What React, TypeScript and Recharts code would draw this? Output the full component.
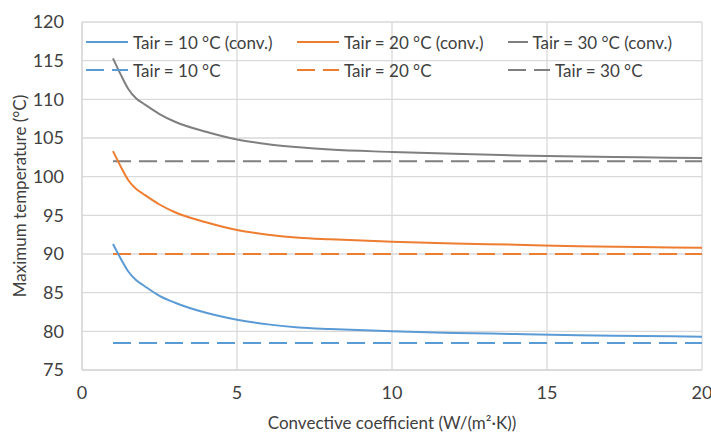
import * as React from "react";
import { ComposedChart, Line, XAxis, YAxis, CartesianGrid, Label } from "recharts";

const H_VALUES = [1, 1.25, 1.5, 1.75, 2, 2.5, 3, 4, 5, 6, 7, 8, 10, 12, 14, 16, 18, 20];
const T10_CONV = [91.3, 89.4, 87.7, 86.6, 85.9, 84.6, 83.7, 82.4, 81.5, 80.9, 80.5, 80.3, 80.0, 79.8, 79.65, 79.5, 79.4, 79.3];
const T20_CONV = [103.3, 101.3, 99.5, 98.4, 97.7, 96.4, 95.4, 94.1, 93.1, 92.5, 92.1, 91.9, 91.6, 91.35, 91.2, 91.0, 90.9, 90.8];
const T30_CONV = [115.3, 113.2, 111.3, 110.1, 109.4, 108.1, 107.1, 105.8, 104.8, 104.2, 103.8, 103.5, 103.2, 102.95, 102.75, 102.6, 102.5, 102.4];
const T10_FLAT = 78.5;
const T20_FLAT = 90;
const T30_FLAT = 102;

const X_TICKS = [0, 5, 10, 15, 20];
const Y_TICKS = [75, 80, 85, 90, 95, 100, 105, 110, 115, 120];

const BLUE = "#5B9BD5";
const ORANGE = "#ED7D31";
const GRAY = "#7F7F7F";
const GRID = "#D9D9D9";
const TEXT = "#404040";
const FONT = "Lato, 'Open Sans', sans-serif";

const data = H_VALUES.map((h, i) => ({
  h,
  c10: T10_CONV[i],
  c20: T20_CONV[i],
  c30: T30_CONV[i],
  f10: T10_FLAT,
  f20: T20_FLAT,
  f30: T30_FLAT,
}));

const LEGEND_ITEMS = [
  { label: "Tair = 10 °C (conv.)", color: BLUE, dashed: false },
  { label: "Tair = 20 °C (conv.)", color: ORANGE, dashed: false },
  { label: "Tair = 30 °C (conv.)", color: GRAY, dashed: false },
  { label: "Tair = 10 °C", color: BLUE, dashed: true },
  { label: "Tair = 20 °C", color: ORANGE, dashed: true },
  { label: "Tair = 30 °C", color: GRAY, dashed: true },
];

// legend sits inside the plot, transparent like Excel's
function LegendBox() {
  return (
    <div style={{
      position: "absolute", left: 85, top: 31, display: "grid",
      gridTemplateColumns: "211px 211px 165px", rowGap: 6,
      fontFamily: FONT, fontSize: 17, color: TEXT, pointerEvents: "none",
    }}>
      {LEGEND_ITEMS.map(it => (
        <div key={it.label} style={{ display: "flex", alignItems: "center", height: 22 }}>
          <svg width={44} height={10} style={{ marginRight: 4 }}>
            <line x1={1} y1={5} x2={43} y2={5} stroke={it.color} strokeWidth={2}
              strokeDasharray={it.dashed ? "18 8" : undefined} />
          </svg>
          <span style={{ whiteSpace: "nowrap" }}>{it.label}</span>
        </div>
      ))}
    </div>
  );
}

export default function App() {
  const tick = { fill: TEXT, fontSize: 18, fontFamily: FONT };
  return (
    <div style={{ position: "absolute", left: 0, top: 0, width: 711, height: 433, background: "#fff" }}>
      <ComposedChart width={711} height={433} data={data} margin={{ top: 22, right: 9, left: 0, bottom: 0 }}>
        <CartesianGrid stroke={GRID} strokeWidth={1.3} />
        <XAxis dataKey="h" type="number" domain={[0, 20]} ticks={X_TICKS} height={63}
          tick={tick} tickLine={false} axisLine={{ stroke: GRID, strokeWidth: 1.3 }} tickMargin={10}>
          <Label value="Convective coefficient (W/(m²·K))" position="insideBottom" offset={4}
            style={{ fill: TEXT, fontSize: 17, fontFamily: FONT }} />
        </XAxis>
        <YAxis type="number" domain={[75, 120]} ticks={Y_TICKS} width={82}
          tick={tick} tickLine={false} axisLine={{ stroke: GRID, strokeWidth: 1.3 }} tickMargin={12}>
          <Label value="Maximum temperature (°C)" angle={-90} position="insideLeft" offset={20}
            style={{ fill: TEXT, fontSize: 17, fontFamily: FONT, textAnchor: "middle" }} />
        </YAxis>
        <Line dataKey="f10" stroke={BLUE} strokeWidth={2} strokeDasharray="18 8" dot={false} isAnimationActive={false} />
        <Line dataKey="f20" stroke={ORANGE} strokeWidth={2} strokeDasharray="18 8" dot={false} isAnimationActive={false} />
        <Line dataKey="f30" stroke={GRAY} strokeWidth={2} strokeDasharray="18 8" dot={false} isAnimationActive={false} />
        <Line type="monotone" dataKey="c10" stroke={BLUE} strokeWidth={2} dot={false} isAnimationActive={false} />
        <Line type="monotone" dataKey="c20" stroke={ORANGE} strokeWidth={2} dot={false} isAnimationActive={false} />
        <Line type="monotone" dataKey="c30" stroke={GRAY} strokeWidth={2} dot={false} isAnimationActive={false} />
      </ComposedChart>
      <LegendBox />
    </div>
  );
}
